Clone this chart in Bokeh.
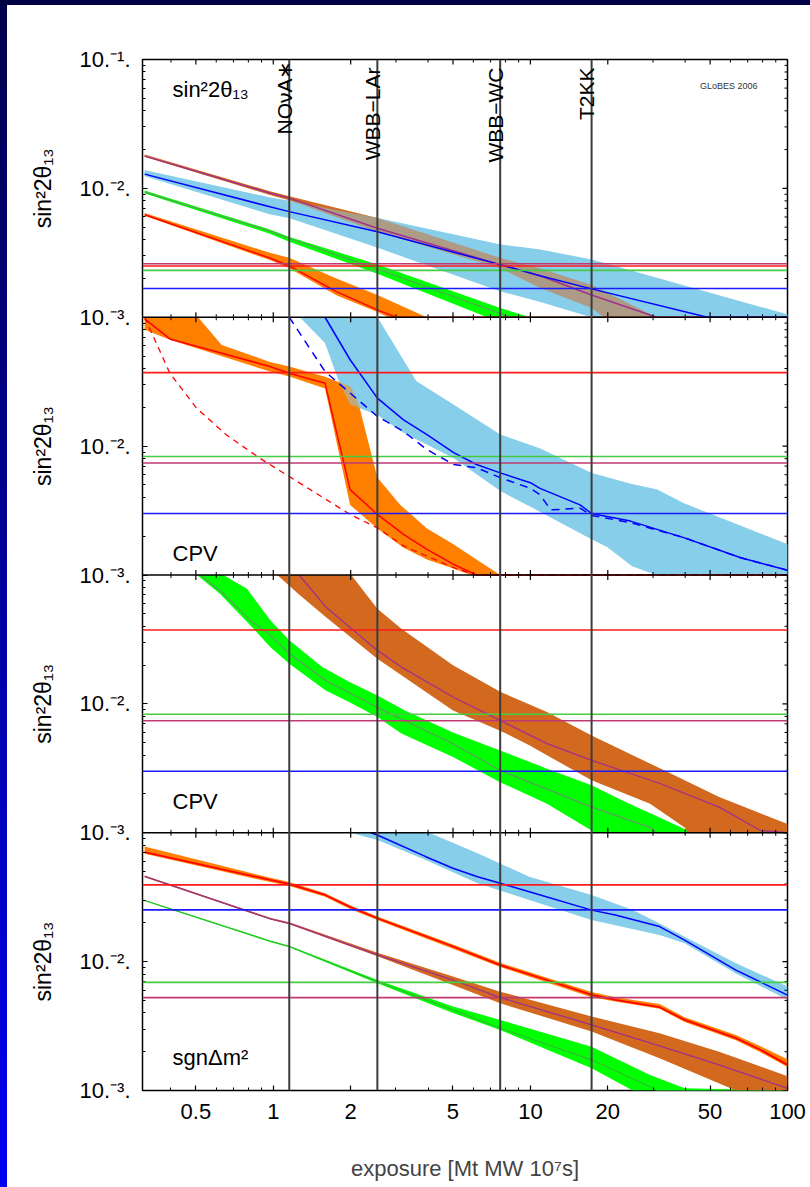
import math
from bokeh.plotting import figure
from bokeh.layouts import row, column
from bokeh.models import Range1d, LogScale, FixedTicker, Span, Label, Div
from bokeh.core.properties import value
from bokeh.embed import file_html
from bokeh.resources import INLINE

# ---------------- axes / labels ----------------
X_MAJOR = [0.5, 1, 2, 5, 10, 20, 50, 100]
X_MAJOR_LABELS = ["0.5", "1", "2", "5", "10", "20", "50", "100"]
X_MINOR = [0.4, 0.6, 0.7, 0.8, 0.9, 3, 4, 6, 7, 8, 9, 30, 40, 60, 70, 80, 90]
PANEL_Y_TICK_LABELS = ["10.\u207b\u00b3.", "10.\u207b\u00b2.", "10.\u207b\u00b9."]
Y_TITLE = "sin\u00b22\u03b8\u2081\u2083"
X_TITLE = "exposure [Mt MW 10\u2077s]"
PANEL_TAGS = ["sin\u00b22\u03b8\u2081\u2083", "CPV", "CPV", "sgn\u0394m\u00b2"]

EXPERIMENTS = ["NO\u03bdA\u2217", "WBB\u2212LAr", "WBB\u2212WC", "T2KK"]
EXPOSURES = [1.154, 2.54, 7.63, 17.3]

# ---------------- panel 1 : sin^2 2theta13 discovery ----------------
P1_SKY_UP_X = [0.316, 0.97, 1.154, 2.54, 7.63, 10.9, 17.3, 100]
P1_SKY_UP_Y = [0.0138, 0.0085, 0.0080, 0.0059, 0.00367, 0.00335, 0.0028, 0.00105]
P1_SKY_LO_X = [0.316, 0.97, 1.154, 2.54, 7.63, 10.9, 17.3, 100]
P1_SKY_LO_Y = [0.01247, 0.0063, 0.0059, 0.00347, 0.00159, 0.00132, 0.001, 0.001]
P1_BLUE_X = [0.316, 0.97, 1.154, 2.54, 7.63, 10.9, 17.3, 48.8, 100]
P1_BLUE_Y = [0.0129, 0.0072, 0.0066, 0.0046, 0.00256, 0.0021, 0.00166, 0.001, 0.001]

P1_BROWN_UP_X = [0.316, 0.97, 1.154, 2.54, 7.63, 10.9, 17.3, 31]
P1_BROWN_UP_Y = [0.0183, 0.0095, 0.0087, 0.0059, 0.00289, 0.0024, 0.00178, 0.001]
P1_BROWN_LO_X = [0.316, 0.97, 1.154, 2.54, 7.63, 10.9, 17.3, 19.3, 31]
P1_BROWN_LO_Y = [0.0176, 0.0089, 0.0081, 0.0046, 0.0024, 0.00169, 0.00118, 0.001, 0.001]
P1_PURPLE_X = [0.316, 0.97, 1.154, 2.54, 7.63, 10.9, 17.3, 31, 100]
P1_PURPLE_Y = [0.0178, 0.0092, 0.0084, 0.0049, 0.00256, 0.0021, 0.00149, 0.001, 0.001]

P1_GREEN_UP_X = [0.316, 0.97, 1.154, 2.54, 7.63, 10.0]
P1_GREEN_UP_Y = [0.00964, 0.0048, 0.0042, 0.00257, 0.00118, 0.001]
P1_GREEN_LO_X = [0.316, 0.97, 1.154, 2.54, 6.8, 10.0]
P1_GREEN_LO_Y = [0.00912, 0.00445, 0.00385, 0.00218, 0.001, 0.001]
P1_GREEN_LINE_X = [0.316, 0.97, 1.154, 2.54, 7.63, 8.5, 100]
P1_GREEN_LINE_Y = [0.00935, 0.00466, 0.00408, 0.00237, 0.00107, 0.001, 0.001]

P1_ORANGE_UP_X = [0.316, 0.97, 1.154, 1.76, 2.54, 3.95]
P1_ORANGE_UP_Y = [0.00643, 0.00316, 0.0029, 0.0020, 0.00149, 0.001]
P1_ORANGE_LO_X = [0.316, 0.97, 1.154, 1.76, 2.54, 2.8, 3.95]
P1_ORANGE_LO_Y = [0.00612, 0.00278, 0.0024, 0.00148, 0.0011, 0.001, 0.001]
P1_RED_X = [0.316, 0.97, 1.154, 1.76, 2.54, 3.0, 100]
P1_RED_Y = [0.00624, 0.00288, 0.0025, 0.00158, 0.00114, 0.001, 0.001]

P1_HLINES = [0.0026, 0.0025, 0.00231, 0.00167]
P1_HLINE_KIND = ["crimson", "red", "green", "blue"]

# ---------------- panel 2 : CPV ----------------
P2_SKY_UP_X = [1.27, 2.54, 3.6, 5.03, 7.63, 10.9, 17.3, 24.5, 31.1, 39.5, 100]
P2_SKY_UP_Y = [0.1, 0.1, 0.0318, 0.0209, 0.0123, 0.0096, 0.0062, 0.0051, 0.0046, 0.0036, 0.00173]
P2_SKY_LO_X = [1.27, 1.59, 1.8, 1.99, 2.54, 3.21, 3.96, 5.03, 7.63, 10.9, 17.3, 19.9, 24.9, 31, 100]
P2_SKY_LO_Y = [0.1, 0.063, 0.0318, 0.021, 0.0175, 0.0127, 0.0103, 0.0081, 0.0045, 0.0031, 0.00189,
               0.00165, 0.00117, 0.001, 0.001]
P2_BLUE_X = [1.59, 1.99, 2.54, 3.21, 3.96, 5.03, 6.17, 7.63, 10.0, 10.9, 15.6, 17.3, 24.5, 39.5, 65.8, 100]
P2_BLUE_Y = [0.1, 0.0468, 0.0236, 0.016, 0.0123, 0.0089, 0.0072, 0.0062, 0.0052, 0.0047, 0.0035, 0.003,
             0.00262, 0.00195, 0.00136, 0.00109]
P2_BLUE_DASH_X = [1.154, 1.59, 2.54, 3.21, 3.96, 5.03, 6.17, 7.63, 10.0, 10.9, 12.0, 15.6, 17.3, 24.5,
                  39.5, 65.8, 100]
P2_BLUE_DASH_Y = [0.1, 0.0379, 0.017, 0.013, 0.0094, 0.0072, 0.0068, 0.0057, 0.0047, 0.0042, 0.0032,
                  0.0033, 0.0029, 0.00255, 0.00195, 0.00136, 0.00109]

P2_ORANGE_UP_X = [0.316, 0.51, 0.63, 0.97, 1.154, 1.59, 2.0, 2.15, 2.54, 3.12, 3.96, 5.02, 6.17, 7.63]
P2_ORANGE_UP_Y = [0.1, 0.1, 0.061, 0.045, 0.0415, 0.0345, 0.029, 0.021, 0.0057, 0.0035, 0.0023,
                  0.00173, 0.00132, 0.001]
P2_ORANGE_LO_X = [0.316, 0.396, 0.97, 1.154, 1.59, 1.99, 2.54, 3.21, 3.96, 4.92, 5.87, 7.63]
P2_ORANGE_LO_Y = [0.08, 0.0668, 0.038, 0.0347, 0.028, 0.0035, 0.0023, 0.00163, 0.00132, 0.00114, 0.001, 0.001]
P2_RED_X = [0.316, 0.396, 0.97, 1.154, 1.59, 1.99, 2.54, 3.21, 3.96, 5.03, 6.17, 100]
P2_RED_Y = [0.097, 0.0679, 0.0415, 0.0368, 0.0308, 0.0046, 0.00295, 0.00207, 0.00158, 0.00121, 0.001, 0.001]
P2_RED_DASH_X = [0.316, 0.396, 0.503, 0.658, 0.887, 0.97, 1.99, 2.54, 3.21, 5.03, 6.1, 100]
P2_RED_DASH_Y = [0.1, 0.0368, 0.0197, 0.0122, 0.00805, 0.0072, 0.00295, 0.00232, 0.00168, 0.00114, 0.001, 0.001]

P2_HLINES = [0.0372, 0.0083, 0.0074, 0.003]
P2_HLINE_KIND = ["red", "green", "crimson", "blue"]

# ---------------- panel 3 : CPV ----------------
P3_GREEN_UP_X = [0.64, 0.79, 0.974, 1.154, 1.55, 1.98, 2.54, 3.25, 5.0, 7.63, 11.6, 17.3, 22.8, 39.8, 100]
P3_GREEN_UP_Y = [0.1, 0.0783, 0.0445, 0.0311, 0.0193, 0.0148, 0.0116, 0.0089, 0.006, 0.00435, 0.00314,
                 0.00234, 0.00178, 0.00107, 0.001]
P3_GREEN_LO_X = [0.505, 0.62, 0.814, 0.973, 1.154, 1.6, 1.98, 2.54, 3.15, 5.0, 7.63, 11.6, 17.3, 17.6, 100]
P3_GREEN_LO_Y = [0.1, 0.0716, 0.0407, 0.0276, 0.0205, 0.0127, 0.0103, 0.0079, 0.0059, 0.00387, 0.00247,
                 0.00168, 0.00104, 0.001, 0.001]
P3_GREEN_LINE_X = [0.52, 0.63, 0.814, 0.973, 1.154, 1.6, 2.54, 5.0, 7.63, 17.3, 29.2, 31, 100]
P3_GREEN_LINE_Y = [0.1, 0.0738, 0.0445, 0.034, 0.0245, 0.0152, 0.0094, 0.0049, 0.00305, 0.00158, 0.0011,
                   0.001, 0.001]

P3_BROWN_UP_X = [1.036, 2.01, 2.54, 3.15, 5.0, 7.63, 11.6, 17.3, 33.1, 54.2, 100]
P3_BROWN_UP_Y = [0.1, 0.1, 0.0548, 0.0383, 0.0199, 0.0124, 0.00865, 0.00569, 0.00305, 0.00189, 0.00117]
P3_BROWN_LO_X = [1.036, 1.25, 1.6, 2.54, 5.0, 7.63, 9.9, 17.3, 29.2, 39.8, 41, 100]
P3_BROWN_LO_Y = [0.1, 0.0716, 0.0472, 0.0224, 0.0089, 0.0062, 0.00477, 0.00255, 0.00168, 0.0011, 0.001, 0.001]
P3_PURPLE_X = [1.26, 1.6, 2.54, 3.15, 5.0, 7.63, 11.6, 17.3, 32.1, 54.2, 78.5, 100]
P3_PURPLE_Y = [0.1, 0.0565, 0.026, 0.0193, 0.0113, 0.00745, 0.00491, 0.00365, 0.0024, 0.00158, 0.00104, 0.001]

P3_HLINES = [0.0374, 0.0083, 0.0074, 0.003]
P3_HLINE_KIND = ["red", "green", "crimson", "blue"]

# ---------------- panel 4 : sgn dm^2 ----------------
P4_SKY_UP_X = [2.0, 4.04, 6.23, 9.9, 17.3, 25, 31.8, 39.8, 63, 100]
P4_SKY_UP_Y = [0.1, 0.1, 0.0692, 0.0456, 0.0329, 0.0251, 0.0198, 0.0156, 0.0097, 0.0064]
P4_SKY_LO_X = [2.0, 2.54, 3.92, 6.23, 9.9, 17.3, 31.8, 39.8, 63, 100]
P4_SKY_LO_Y = [0.1, 0.0877, 0.0614, 0.0405, 0.0301, 0.021, 0.0161, 0.0139, 0.0081, 0.00505]
P4_BLUE_X = [2.4, 2.54, 3.92, 5.0, 6.23, 7.63, 9.9, 17.3, 21.4, 31.8, 39.8, 63, 100]
P4_BLUE_Y = [0.1, 0.096, 0.0652, 0.053, 0.0456, 0.0405, 0.0349, 0.0251, 0.023, 0.0187, 0.0147, 0.0086, 0.0055]

P4_ORANGE_X = [0.316, 0.973, 1.154, 1.59, 2.0, 2.54, 5.0, 7.63, 11.6, 17.3, 21.4, 31.8, 39.8, 63, 78.5, 100]
P4_ORANGE_UP_Y = [0.0783, 0.0447, 0.0415, 0.034, 0.0273, 0.0224, 0.0136, 0.0098, 0.0075, 0.0058, 0.0053,
                  0.0047, 0.0037, 0.0027, 0.0022, 0.00175]
P4_ORANGE_LO_Y = [0.0687, 0.0414, 0.0387, 0.0318, 0.0255, 0.021, 0.0126, 0.0091, 0.0069, 0.0053, 0.0049,
                  0.0043, 0.0034, 0.00245, 0.00198, 0.00152]
P4_RED_Y = [0.0708, 0.043, 0.04, 0.0329, 0.0264, 0.0217, 0.0131, 0.0094, 0.0072, 0.00552, 0.00505,
            0.00443, 0.00353, 0.00255, 0.00207, 0.00158]

P4_BROWN_UP_X = [0.316, 0.973, 1.154, 2.54, 5.0, 7.63, 17.3, 31.8, 54.2, 100]
P4_BROWN_UP_Y = [0.0466, 0.0219, 0.0202, 0.0117, 0.00766, 0.00585, 0.00375, 0.00278, 0.002, 0.00129]
P4_BROWN_LO_X = [0.316, 0.973, 1.154, 2.54, 5.0, 7.63, 17.3, 31.8, 63, 100]
P4_BROWN_LO_Y = [0.0452, 0.0212, 0.0195, 0.011, 0.0066, 0.00475, 0.00287, 0.00178, 0.001, 0.001]
P4_PURPLE_X = [0.316, 0.973, 1.154, 2.54, 5.0, 7.63, 17.3, 31.8, 54.2, 100]
P4_PURPLE_Y = [0.0458, 0.0215, 0.0198, 0.0113, 0.0072, 0.00526, 0.00323, 0.00222, 0.00158, 0.00104]

P4_GREEN_UP_X = [0.316, 0.973, 1.154, 2.54, 5.0, 7.63, 17.3, 29.2, 39.8, 100]
P4_GREEN_UP_Y = [0.0301, 0.0146, 0.0133, 0.0072, 0.00448, 0.00353, 0.00219, 0.00132, 0.00104, 0.001]
P4_GREEN_LO_X = [0.316, 0.973, 1.154, 2.54, 5.0, 7.63, 17.3, 25, 100]
P4_GREEN_LO_Y = [0.0295, 0.0142, 0.0129, 0.0068, 0.004, 0.00295, 0.00149, 0.001, 0.001]
P4_GREEN_LINE_X = [0.316, 0.973, 1.154, 2.54, 5.0, 7.63, 17.3, 29.2, 31, 100]
P4_GREEN_LINE_Y = [0.0298, 0.0144, 0.0131, 0.007, 0.00422, 0.00304, 0.00173, 0.00107, 0.001, 0.001]

P4_HLINES = [0.0394, 0.0252, 0.0069, 0.00526]
P4_HLINE_KIND = ["red", "blue", "green", "crimson"]

# ---------------- styling ----------------
SKY = "#87CEEB"
ORANGE = "#FF8000"
LIME = "#00FF00"
CHOC = "#D2691E"
BLUE = "#0000FF"
RED = "#FF0000"
GLINE = "#5e9e5e"
PLINE = "#a0308c"
HCOL = {"red": "#ff1a1a", "green": "#44cc44", "crimson": "#c03a72", "blue": "#1a1aff"}
FONT = "Liberation Sans"

X_LO, X_HI = 0.31, 100
Y_LOW, Y_HIGH = 1e-3, 1e-1
RANGES = {"p1": (1e-9, 1e-1), "p2": (1e-7, 1e1), "p3": (1e-5, 1e3), "default": (1e-3, 1e5)}
PANEL_NAMES = ["p1", "p2", "p3", "default"]

STRIP_TOP, STRIP_LEFT = 5, 7
FRAME_H = 1031
TOP_B, BOT_B = 59 - STRIP_TOP, 97
LEFT_W = 60 - STRIP_LEFT
FIG_H = TOP_B + FRAME_H + BOT_B

# slide decoration: dark top strip and blue left strip
top_strip = Div(text="", width=810, height=STRIP_TOP, margin=0,
                styles={"background-color": "#000044"})
left_strip = Div(text="", width=STRIP_LEFT, height=FIG_H, margin=0,
                 styles={"background": "linear-gradient(to bottom, #00004c, #0000f2)"})

# narrow figure on the left that carries the four rotated y titles
yl = figure(frame_width=LEFT_W, frame_height=FRAME_H, x_range=Range1d(0, LEFT_W), y_range=Range1d(0, 4),
            output_backend="svg", toolbar_location=None, x_axis_location=None, y_axis_location=None,
            min_border_left=0, min_border_right=0, min_border_top=TOP_B, min_border_bottom=BOT_B,
            outline_line_color=None, background_fill_color="white", border_fill_color="white")
yl.grid.visible = False
yl.text(x=[42 - STRIP_LEFT] * 4, y=[3.5, 2.5, 1.5, 0.5], text=[Y_TITLE] * 4, angle=math.pi / 2,
        text_align="center", text_baseline="middle", text_font=value(FONT),
        text_font_size="23px", text_color="black")

p = figure(frame_width=645, frame_height=FRAME_H,
           x_axis_type="log", y_axis_type="log",
           x_range=Range1d(X_LO, X_HI), y_range=Range1d(*RANGES["default"]),
           output_backend="svg", toolbar_location=None,
           min_border_left=82, min_border_right=23, min_border_top=TOP_B, min_border_bottom=BOT_B,
           background_fill_color="white", border_fill_color="white")
p.extra_y_ranges = {k: Range1d(*v) for k, v in RANGES.items() if k != "default"}
p.extra_y_scales = {k: LogScale() for k in RANGES if k != "default"}
p.grid.visible = False
p.outline_line_color = "black"
p.outline_line_width = 1.5

# y ticks: main range spans 8 decades = 4 stacked panels of 2 decades each
y_major = [10.0 ** e for e in range(-3, 6)]
y_minor = [m * 10.0 ** e for e in range(-3, 5) for m in range(2, 10)]
y_over = {}
for i, v in enumerate(y_major):
    if i == len(y_major) - 1:
        y_over[v] = PANEL_Y_TICK_LABELS[2]
    else:
        y_over[v] = PANEL_Y_TICK_LABELS[i % 2]
y_ticker = FixedTicker(ticks=y_major, minor_ticks=y_minor)
x_ticker = FixedTicker(ticks=X_MAJOR, minor_ticks=X_MINOR)


def style_axis(ax, size):
    ax.major_tick_in = 5
    ax.major_tick_out = 0
    ax.minor_tick_in = 3
    ax.minor_tick_out = 0
    ax.major_tick_line_color = "black"
    ax.minor_tick_line_color = "black"
    ax.major_tick_line_width = 1.2
    ax.minor_tick_line_width = 1
    ax.axis_line_color = None
    ax.major_label_text_font = FONT
    ax.major_label_text_font_size = size
    ax.major_label_text_color = "black"


ya = p.yaxis[0]
ya.ticker = y_ticker
ya.major_label_overrides = y_over
ya.major_label_standoff = 12
style_axis(ya, "22px")

xa = p.xaxis[0]
xa.ticker = x_ticker
xa.major_label_overrides = dict(zip(X_MAJOR, X_MAJOR_LABELS))
xa.major_label_standoff = 13
xa.axis_label = X_TITLE
xa.axis_label_text_font = FONT
xa.axis_label_text_font_size = "22px"
xa.axis_label_text_font_style = "normal"
xa.axis_label_standoff = 34
style_axis(xa, "22px")


def band(ux, uy, lx, ly, color, rn, alpha=1.0):
    xs = list(ux) + list(lx)[::-1]
    ys = list(uy) + list(ly)[::-1]
    p.patch(xs, ys, fill_color=color, fill_alpha=alpha, line_color=None, y_range_name=rn)


def line(x, y, color, rn, width=1.5, dash="solid"):
    p.line(x, y, line_color=color, line_width=width, line_dash=dash, y_range_name=rn)


# ----- panel 1 -----
band(P1_SKY_UP_X, P1_SKY_UP_Y, P1_SKY_LO_X, P1_SKY_LO_Y, SKY, "p1")
band(P1_GREEN_UP_X, P1_GREEN_UP_Y, P1_GREEN_LO_X, P1_GREEN_LO_Y, LIME, "p1")
band(P1_ORANGE_UP_X, P1_ORANGE_UP_Y, P1_ORANGE_LO_X, P1_ORANGE_LO_Y, ORANGE, "p1")
band(P1_BROWN_UP_X, P1_BROWN_UP_Y, P1_BROWN_LO_X, P1_BROWN_LO_Y, CHOC, "p1")
band(P1_SKY_UP_X, P1_SKY_UP_Y, P1_SKY_LO_X, P1_SKY_LO_Y, SKY, "p1", alpha=0.5)
line(P1_RED_X, P1_RED_Y, RED, "p1")
line(P1_GREEN_LINE_X, P1_GREEN_LINE_Y, GLINE, "p1", width=1.2)
line(P1_PURPLE_X, P1_PURPLE_Y, PLINE, "p1")
line(P1_BLUE_X, P1_BLUE_Y, BLUE, "p1")

# ----- panel 2 -----
band(P2_SKY_UP_X, P2_SKY_UP_Y, P2_SKY_LO_X, P2_SKY_LO_Y, SKY, "p2")
band(P2_ORANGE_UP_X, P2_ORANGE_UP_Y, P2_ORANGE_LO_X, P2_ORANGE_LO_Y, ORANGE, "p2")
band(P2_SKY_UP_X, P2_SKY_UP_Y, P2_SKY_LO_X, P2_SKY_LO_Y, SKY, "p2", alpha=0.5)
line(P2_RED_DASH_X, P2_RED_DASH_Y, RED, "p2", width=1.3, dash="6 5")
line(P2_RED_X, P2_RED_Y, RED, "p2")
line(P2_BLUE_DASH_X, P2_BLUE_DASH_Y, BLUE, "p2", width=1.5, dash="8 6")
line(P2_BLUE_X, P2_BLUE_Y, BLUE, "p2")

# ----- panel 3 -----
band(P3_GREEN_UP_X, P3_GREEN_UP_Y, P3_GREEN_LO_X, P3_GREEN_LO_Y, LIME, "p3")
band(P3_BROWN_UP_X, P3_BROWN_UP_Y, P3_BROWN_LO_X, P3_BROWN_LO_Y, CHOC, "p3")
line(P3_GREEN_LINE_X, P3_GREEN_LINE_Y, GLINE, "p3", width=1.2)
line(P3_PURPLE_X, P3_PURPLE_Y, PLINE, "p3", width=1.3)

# ----- panel 4 -----
band(P4_SKY_UP_X, P4_SKY_UP_Y, P4_SKY_LO_X, P4_SKY_LO_Y, SKY, "default")
band(P4_GREEN_UP_X, P4_GREEN_UP_Y, P4_GREEN_LO_X, P4_GREEN_LO_Y, LIME, "default")
band(P4_BROWN_UP_X, P4_BROWN_UP_Y, P4_BROWN_LO_X, P4_BROWN_LO_Y, CHOC, "default")
band(P4_ORANGE_X, P4_ORANGE_UP_Y, P4_ORANGE_X, P4_ORANGE_LO_Y, ORANGE, "default")
line(P4_GREEN_LINE_X, P4_GREEN_LINE_Y, "#33bb33", "default", width=1.2)
line(P4_PURPLE_X, P4_PURPLE_Y, PLINE, "default", width=1.3)
line(P4_ORANGE_X, P4_RED_Y, RED, "default", width=1.8)
line(P4_BLUE_X, P4_BLUE_Y, BLUE, "default")

# ----- horizontal reference lines -----
for rn, vals, kinds in [("p1", P1_HLINES, P1_HLINE_KIND), ("p2", P2_HLINES, P2_HLINE_KIND),
                        ("p3", P3_HLINES, P3_HLINE_KIND), ("default", P4_HLINES, P4_HLINE_KIND)]:
    for v, k in zip(vals, kinds):
        p.add_layout(Span(location=v, dimension="width", y_range_name=rn,
                          line_color=HCOL[k], line_width=1.6))

# ----- panel separators; inward ticks on top / right / panel joints (clipped to frame) -----
x_major_inner = [v for v in X_MAJOR if v < X_HI]
for rn in PANEL_NAMES[:-1]:
    p.add_layout(Span(location=Y_LOW, dimension="width", y_range_name=rn,
                      line_color="black", line_width=1.5))
    p.scatter(x_major_inner, [Y_LOW] * len(x_major_inner), marker="dash", angle=math.pi / 2,
              size=10, line_color="black", line_width=1.2, y_range_name=rn)
    p.scatter(X_MINOR, [Y_LOW] * len(X_MINOR), marker="dash", angle=math.pi / 2,
              size=6, line_color="black", line_width=1.0, y_range_name=rn)
# top edge
p.scatter(x_major_inner, [Y_HIGH] * len(x_major_inner), marker="dash", angle=math.pi / 2,
          size=10, line_color="black", line_width=1.2, y_range_name="p1")
p.scatter(X_MINOR, [Y_HIGH] * len(X_MINOR), marker="dash", angle=math.pi / 2,
          size=6, line_color="black", line_width=1.0, y_range_name="p1")
# right edge
p.scatter([X_HI] * len(y_major), y_major, marker="dash", size=10, line_color="black", line_width=1.2)
p.scatter([X_HI] * len(y_minor), y_minor, marker="dash", size=6, line_color="black", line_width=1.0)

# ----- experiment exposure lines -----
label_drop = [-1, -8, -8, -8]
for name, xv, dy in zip(EXPERIMENTS, EXPOSURES, label_drop):
    p.add_layout(Span(location=xv, dimension="height", line_color="#3c3c3c", line_width=2))
    p.add_layout(Label(x=xv, y=Y_HIGH, y_range_name="p1", text=name, angle=90, angle_units="deg",
                       text_align="right", text_baseline="alphabetic", x_offset=-5, y_offset=dy,
                       text_font=FONT, text_font_size="21px", text_color="black"))

# ----- texts inside panels -----
tag_offsets = [(Y_HIGH, -30), (Y_LOW, 22), (Y_LOW, 31), (Y_LOW, 33)]
for rn, tag, (yv, off) in zip(PANEL_NAMES, PANEL_TAGS, tag_offsets):
    p.add_layout(Label(x=X_LO, y=yv, y_range_name=rn, text=tag, x_offset=30, y_offset=off,
                       text_align="left", text_baseline="alphabetic",
                       text_font=FONT, text_font_size="22px", text_color="black"))

p.add_layout(Label(x=X_HI, y=Y_HIGH, y_range_name="p1", text="GLoBES 2006", x_offset=-30, y_offset=-26,
                   text_align="right", text_baseline="middle",
                   text_font=FONT, text_font_size="9px", text_color="#333333"))

layout = column(top_strip, row(left_strip, yl, p, spacing=0), spacing=0)
open("out.html", "w").write(file_html(layout, INLINE))
